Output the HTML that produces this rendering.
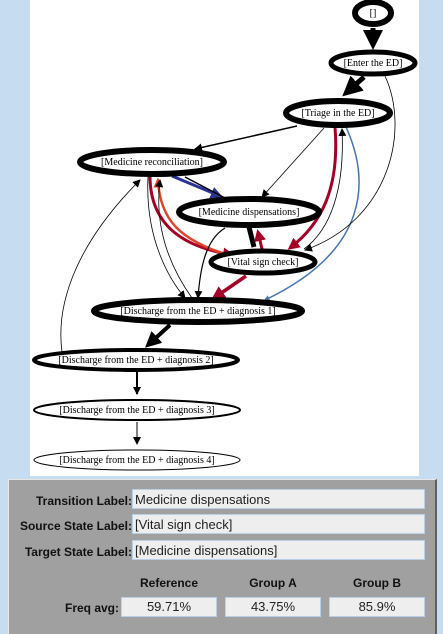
<!DOCTYPE html><html><head><style>
body{margin:0;width:443px;height:633px;background:#c6dcf1;overflow:hidden;font-family:"Liberation Sans",sans-serif;position:relative}
#panel{position:absolute;left:8px;top:479px;width:426px;height:154px;background:#a0a0a0;border-left:1px solid #e8e8e8;border-top:1px solid #e8e8e8;border-right:2px solid #606060}
.l{position:absolute;font-size:12px;font-weight:bold;color:#111;text-align:right;width:125px}
.f{position:absolute;left:123px;width:293px;height:20px;background:#eeeeee;border:1px solid #b8cfe6;font-size:13px;color:#222;line-height:20px;padding-left:2px;box-sizing:border-box}
.h{position:absolute;font-size:12px;font-weight:bold;color:#111;text-align:center;width:96px;top:96px}
.v{position:absolute;top:117px;width:96px;height:20px;background:#eeeeee;border:1px solid #b8cfe6;box-sizing:border-box;font-size:13px;color:#222;text-align:center;line-height:18px}
</style></head><body>
<svg width="443" height="477" style="position:absolute;left:0;top:0">
<rect x="30" y="0" width="389" height="476" fill="#fff"/>
<defs>
<marker id="a" markerWidth="4" markerHeight="4" refX="3" refY="2" orient="auto" markerUnits="strokeWidth"><path d="M0,0L4,2L0,4z" fill="#000"/></marker>
<marker id="ar" markerWidth="4" markerHeight="4" refX="3" refY="2" orient="auto" markerUnits="strokeWidth"><path d="M0,0L4,2L0,4z" fill="#a50026"/></marker>
<marker id="ao" markerWidth="4" markerHeight="4" refX="3" refY="2" orient="auto" markerUnits="strokeWidth"><path d="M0,0L4,2L0,4z" fill="#e0452a"/></marker>
<marker id="ab" markerWidth="4" markerHeight="4" refX="3" refY="2" orient="auto" markerUnits="strokeWidth"><path d="M0,0L4,2L0,4z" fill="#2b3394"/></marker>
<marker id="al" markerWidth="4" markerHeight="4" refX="3" refY="2" orient="auto" markerUnits="strokeWidth"><path d="M0,0L4,2L0,4z" fill="#4575b4"/></marker>
<marker id="t" markerWidth="8" markerHeight="8" refX="7" refY="4" orient="auto" markerUnits="userSpaceOnUse"><path d="M0,0L8,4L0,8z" fill="#000"/></marker>
</defs>
<g fill="none">
<path d="M373,28L373,45" stroke="#000" stroke-width="5" marker-end="url(#a)"/>
<path d="M364,77L346,93" stroke="#000" stroke-width="5" marker-end="url(#a)"/>
<path d="M297,126L195,149" stroke="#000" stroke-width="1.5" marker-end="url(#t)"/>
<path d="M324,128L262,197" stroke="#000" stroke-width="0.8" marker-end="url(#t)"/>
<path d="M335,127C340,190 320,225 290,248" stroke="#a50026" stroke-width="3" marker-end="url(#ar)"/>
<path d="M304,249C330,230 345,190 342,129" stroke="#000" stroke-width="0.8" marker-end="url(#t)"/>
<path d="M346,127C370,180 370,250 265,300" stroke="#4575b4" stroke-width="1.5" marker-end="url(#al)"/>
<path d="M385,76C410,130 390,220 305,250" stroke="#000" stroke-width="0.8" marker-end="url(#t)"/>
<path d="M172,176L220,196" stroke="#2b3394" stroke-width="3" marker-end="url(#ab)"/>
<path d="M185,177L225,198" stroke="#000" stroke-width="1.5"/>
<path d="M150,176C150,230 190,248 232,255" stroke="#a50026" stroke-width="3" marker-end="url(#ar)"/>
<path d="M228,255C180,240 160,220 158,180" stroke="#e0452a" stroke-width="2.5" marker-end="url(#ao)"/>
<path d="M148,177C145,240 170,280 185,298" stroke="#000" stroke-width="0.8" marker-end="url(#t)"/>
<path d="M192,298C165,260 155,220 160,180" stroke="#000" stroke-width="0.8" marker-end="url(#t)"/>
<path d="M62,352C55,300 80,240 140,180" stroke="#000" stroke-width="0.8" marker-end="url(#t)"/>
<path d="M225,228C205,240 200,270 198,298" stroke="#000" stroke-width="1.2" marker-end="url(#t)"/>
<path d="M249,227L254,247" stroke="#000" stroke-width="5"/>
<path d="M262,249L258,232" stroke="#a50026" stroke-width="3" marker-end="url(#ar)"/>
<path d="M246,276L214,298" stroke="#a50026" stroke-width="3.5" marker-end="url(#ar)"/>
<path d="M170,325L148,345" stroke="#000" stroke-width="4" marker-end="url(#a)"/>
<path d="M137,372L137,394" stroke="#000" stroke-width="2" marker-end="url(#t)"/>
<path d="M137,422L137,444" stroke="#000" stroke-width="1" marker-end="url(#t)"/>
</g>
<g fill="#fff" stroke="#000">
<ellipse cx="373" cy="13" rx="18" ry="11" stroke-width="6"/>
<ellipse cx="373" cy="63" rx="42" ry="11" stroke-width="5"/>
<ellipse cx="338" cy="113" rx="52" ry="12" stroke-width="6"/>
<ellipse cx="152" cy="162" rx="72" ry="12" stroke-width="6"/>
<ellipse cx="249" cy="212" rx="70" ry="13" stroke-width="6"/>
<ellipse cx="263" cy="262" rx="52" ry="11" stroke-width="5"/>
<ellipse cx="198" cy="311" rx="104" ry="11" stroke-width="6"/>
<ellipse cx="136" cy="360" rx="102" ry="10" stroke-width="4"/>
<ellipse cx="137" cy="410" rx="103" ry="10" stroke-width="2"/>
<ellipse cx="137" cy="460" rx="103" ry="10" stroke-width="1"/>
</g>
<g font-family="Liberation Serif,serif" font-size="10" text-anchor="middle" fill="#000">
<text x="373" y="16">[]</text>
<text x="373" y="66">[Enter the ED]</text>
<text x="338" y="116">[Triage in the ED]</text>
<text x="152" y="165">[Medicine reconciliation]</text>
<text x="249" y="215">[Medicine dispensations]</text>
<text x="263" y="265">[Vital sign check]</text>
<text x="198" y="314">[Discharge from the ED + diagnosis 1]</text>
<text x="136" y="363">[Discharge from the ED + diagnosis 2]</text>
<text x="137" y="413">[Discharge from the ED + diagnosis 3]</text>
<text x="137" y="463">[Discharge from the ED + diagnosis 4]</text>
</g>
</svg>
<div id="panel">
<div class="l" style="left:-2px;top:14px">Transition Label:</div><div class="f" style="top:9px">Medicine dispensations</div>
<div class="l" style="left:-2px;top:39px">Source State Label:</div><div class="f" style="top:34px">[Vital sign check]</div>
<div class="l" style="left:-2px;top:65px">Target State Label:</div><div class="f" style="top:60px">[Medicine dispensations]</div>
<div class="h" style="left:112px">Reference</div><div class="h" style="left:216px">Group A</div><div class="h" style="left:320px">Group B</div>
<div class="l" style="left:-15px;top:121px">Freq avg:</div>
<div class="v" style="left:112px">59.71%</div><div class="v" style="left:216px">43.75%</div><div class="v" style="left:320px">85.9%</div>
</div>
</body></html>
